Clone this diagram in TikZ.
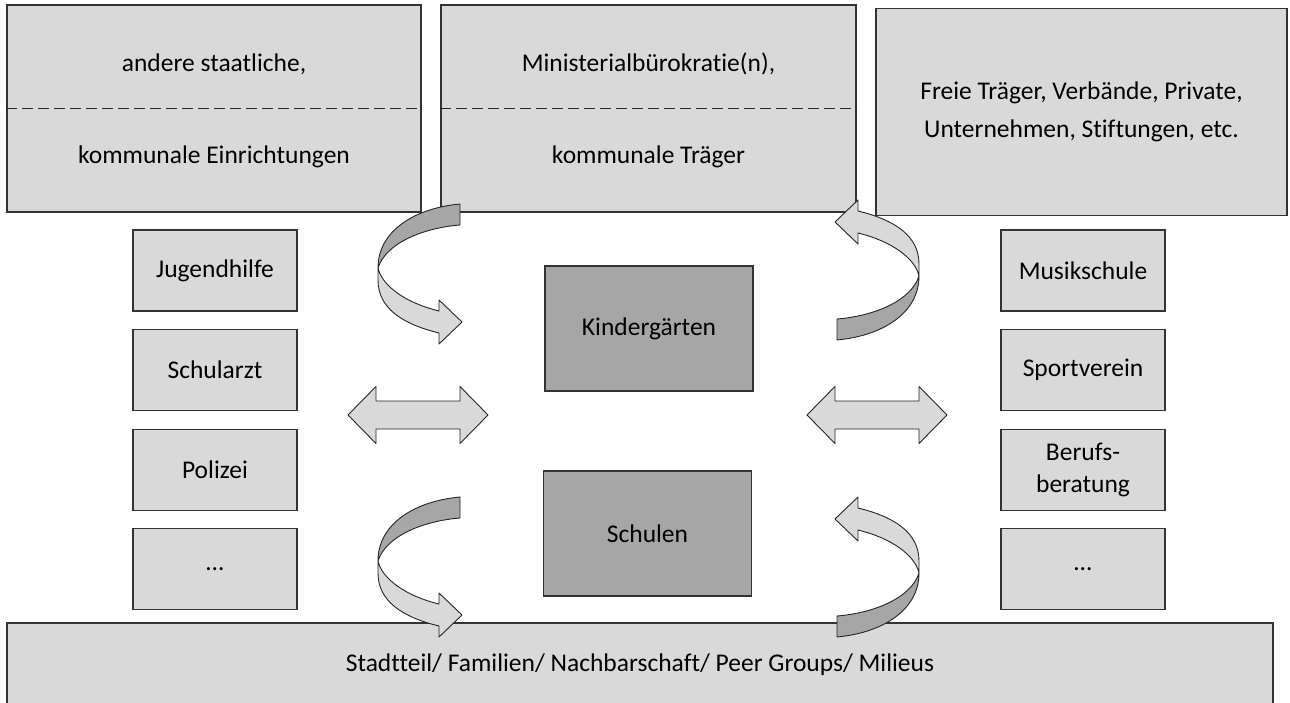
\documentclass[tikz,border=0pt]{standalone}
\usepackage{fontspec}
\setmainfont{Carlito}[Ligatures={TeX,NoCommon}]
\usetikzlibrary{positioning}

\definecolor{lightfill}{HTML}{D9D9D9}
\definecolor{darkfill}{HTML}{A6A6A6}

\begin{document}
\begin{tikzpicture}[
    x=1pt, y=-1pt,
    every node/.style={font=\fontsize{25.5}{32}\selectfont},
    topbox/.style={rectangle, draw=black!80, fill=lightfill, line width=1.1pt, minimum height=207pt},
    sidebox/.style={rectangle, draw=black!80, fill=lightfill, line width=1.1pt, minimum width=164pt, minimum height=81pt, align=center},
    centerbox/.style={rectangle, draw=black!80, fill=darkfill, line width=1.1pt, minimum width=208pt, minimum height=125pt},
    basebox/.style={rectangle, draw=black!80, fill=lightfill, line width=1.1pt, minimum width=1266pt, minimum height=84pt},
    divider/.style={draw=black!85, line width=1pt, dash pattern=on 11pt off 5pt},
    ribbon/.style={draw=black!85, line width=0.9pt, line join=round}
]
\useasboundingbox (0,0) rectangle (1290,703);
\clip (0,0) rectangle (1290,703);

% Top row
\node (staat) [topbox, minimum width=414pt] at (214,108.5) {};
\node (staat1) at (214,64) {andere staatliche,};
\node (staat2) at (214,157) {kommunale Einrichtungen};
\node (minist) [topbox, minimum width=415pt] at (648.5,108.5) {};
\node (minist1) at (648.5,64) {Ministerialbürokratie(n),};
\node (minist2) at (648.5,157) {kommunale Träger};
\node (freie) [topbox, minimum width=411pt, align=center] at (1081.5,112) {Freie Träger, Verbände, Private,\\[6pt]Unternehmen, Stiftungen, etc.};
\draw [divider] (staat.west) -- (staat.east);
\draw [divider] (minist.west) -- (minist.east);

% Left column
\node (jugend) [sidebox] at (215,270.5) {Jugendhilfe};
\node (arzt) [sidebox, below=17.5pt of jugend] {Schularzt};
\node (polizei) [sidebox, below=17.5pt of arzt] {Polizei};
\node (linksmehr) [sidebox, below=17.5pt of polizei] {…};

% Right column
\node (musik) [sidebox] at (1083,270.5) {Musikschule};
\node (sport) [sidebox, below=17.5pt of musik] {Sportverein};
\node (beruf) [sidebox, below=17.5pt of sport] {Berufs-\\beratung};
\node (rechtsmehr) [sidebox, below=17.5pt of beruf] {…};

% Middle
\node (kita) [centerbox] at (649,328.5) {Kindergärten};
\node (schule) [centerbox] at (647.5,533.5) {Schulen};

% Bottom
\node (milieu) [basebox] at (640,665) {Stadtteil/ Familien/ Nachbarschaft/ Peer Groups/ Milieus};

% Double arrows
\coordinate (pfeillinks) at (418,415);
\coordinate (pfeilrechts) at (877,415);
\foreach \c in {pfeillinks, pfeilrechts} {
  \begin{scope}[shift={(\c)}]
    \draw [ribbon, fill=lightfill] (-70,0) -- (-42,-28.5) -- (-42,-14) -- (42,-14) -- (42,-28.5)
      -- (70,0) -- (42,28.5) -- (42,14) -- (-42,14) -- (-42,28.5) -- cycle;
  \end{scope}
}

% Curved arrows
\foreach \px/\py/\rot in {378/268/0, 378/561/0, 919/276/180, 919/573/180} {
  \begin{scope}[shift={(\px,\py)}, rotate=\rot]
    \draw [ribbon, fill=darkfill] (0,0) .. controls (0,-38) and (38,-60) .. (82,-64)
      -- (82,-43) .. controls (45,-40) and (8,-25) .. (0,0) -- cycle;
    \draw [ribbon, fill=lightfill] (0,0) .. controls (4,18) and (28,35) .. (61,43)
      -- (61,32) -- (84,54) -- (61,76) -- (61,65) .. controls (24,56) and (0,40) .. (0,12) -- cycle;
  \end{scope}
}

\end{tikzpicture}
\end{document}
